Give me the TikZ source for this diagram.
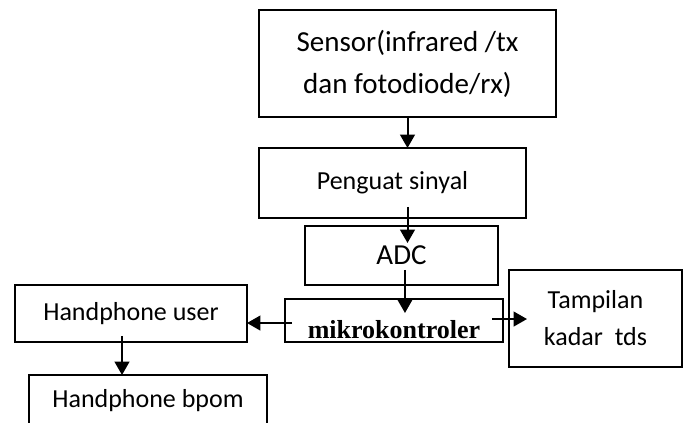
\documentclass[tikz,border=0pt]{standalone}
\usepackage{fontspec}
\setmainfont{Carlito}
\newfontfamily\mkfont{Liberation Serif}
\usetikzlibrary{arrows.meta}
\tikzset{
  blok/.style={draw,line width=1.1pt,inner sep=0pt,outer sep=0pt,align=center,font=\fontsize{19.5}{27.75}\selectfont},
  arr/.style={line width=1.5pt,-{Triangle[length=10pt,width=11pt]}}
}
\begin{document}
\begin{tikzpicture}[x=0.75pt,y=0.75pt,yscale=-1,xscale=1]
    \useasboundingbox (0,0) rectangle (686,423);
    \clip (0,0) rectangle (686,423);
    % Blocks
    \node[blok,minimum width=222.75pt,minimum height=80.25pt,font=\fontsize{21.75}{31.5}\selectfont] (sensor) at (407.5,63.5) {Sensor(infrared /tx\\dan fotodiode/rx)};
    \node[blok,minimum width=200.25pt,minimum height=52.5pt] (penguat) at (392.5,183) {Penguat sinyal};
    \node[blok,minimum width=144.75pt,minimum height=44.25pt,font=\fontsize{21.75}{26}\selectfont] (adc) at (401.5,255.5) {ADC};
    \node[blok,minimum width=163.5pt,minimum height=32.25pt,text height=27.75pt,text depth=0pt,font=\mkfont\bfseries\fontsize{19.5}{24}\selectfont] (mikro) at (394,320.5) {mikrokontroler};
    \node[blok,minimum width=174pt,minimum height=42.75pt] (hpuser) at (131,313.5) {Handphone user};
    \node[blok,minimum width=178.5pt,minimum height=39pt] (hpbpom) at (148,401) {Handphone bpom};
    \node[blok,minimum width=129.75pt,minimum height=72.75pt] (tampil) at (595.5,318.5) {Tampilan\\kadar~ tds};
    % Arrows (yshift is flipped by yscale=-1)
    \draw[arr] (sensor.south) -- (sensor.south |- penguat.north);
    \draw[arr] ([yshift=-8.25pt]penguat.south -| sensor.south) -- ([yshift=12.75pt]adc.north -| sensor.south);
    \draw[arr] ([xshift=2.6pt,yshift=-11.25pt]adc.south) -- ([xshift=2.6pt,yshift=10.5pt]mikro.north -| adc.south);
    \draw[arr] ([xshift=5.25pt,yshift=1.9pt]mikro.west) coordinate (m1) -- (m1 -| hpuser.east);
    \draw[arr] ([xshift=-6.75pt,yshift=-4.5pt]hpuser.south) -- ([xshift=-6.75pt]hpuser.south |- hpbpom.north);
    \draw[arr] ([xshift=-8.25pt,yshift=-1.1pt]mikro.east) coordinate (m2) -- ([xshift=13.5pt]m2 -| tampil.west);
\end{tikzpicture}
\end{document}
